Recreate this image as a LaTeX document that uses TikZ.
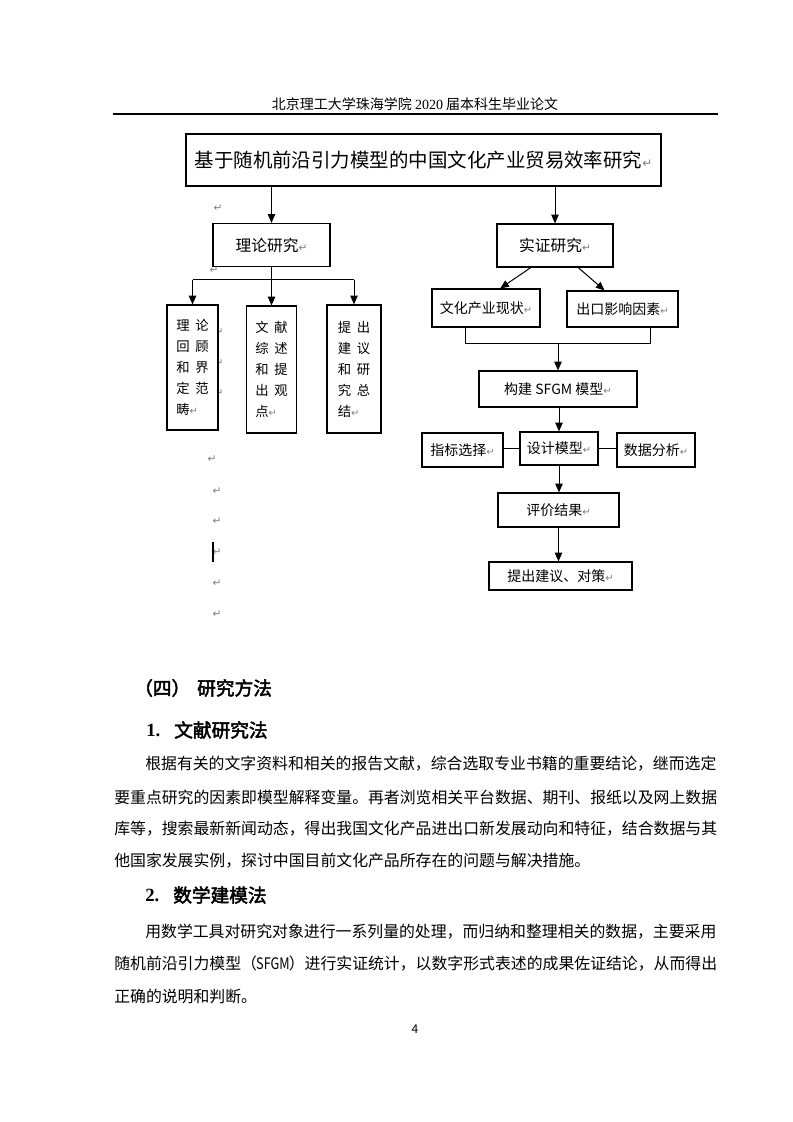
\documentclass[tikz,border=0pt]{standalone}
\usepackage{fontspec}
\usepackage{graphicx}
\setmainfont{Noto Sans CJK SC}
\newfontfamily\cjkbold[FakeBold=2.5]{Noto Sans CJK SC}
\newfontfamily\symf{DejaVu Sans}
\newfontfamily\serifl{Liberation Serif}
\usetikzlibrary{arrows.meta,calc}
\newcommand\fs[1]{\fontsize{#1}{#1}\selectfont}
\newcommand\ret[1][7.5]{{\symf\color{black!50}\fontsize{#1}{#1}\selectfont ↵}}
\newcommand\pr[2]{#1\hspace{4.3pt}#2}
\begin{document}
\begin{tikzpicture}[x=0.75pt,y=-0.75pt,
  box/.style={draw,line width=0.9pt,inner sep=0pt,fill=white},
  wh/.style 2 args={minimum width=#1*0.75pt,minimum height=#2*0.75pt},
  vt/.style={box,align=left,font=\fontsize{10}{15.75}\selectfont},
  arr/.style={line width=0.75pt,-{Triangle[length=6.5pt,width=5.5pt]}},
  ln/.style={line width=0.75pt},
  retm/.style={inner sep=0pt,text=black!50,font=\symf\fs{8}},
  txt/.style={inner sep=0pt,anchor=west},
  body/.style={txt,font=\fs{11.9}},
]
\useasboundingbox[fill=white] (0,0) rectangle (793,1122);

% header
\node[inner sep=0pt,font=\fs{10.5}] (hdr) at (415,104) {北京理工大学珠海学院 {\serifl 2020} 届本科生毕业论文};
\coordinate (hl) at (113,114);
\coordinate (hr) at (718,114);
\draw[line width=0.8pt] (hl) -- (hr);

% title
\node[box,wh={475}{52},font=\fs{14.6}] (title) at (423.5,160) {基于随机前沿引力模型的中国文化产业贸易效率研究\ret[9]};

% left branch
\node[box,wh={117}{43},font=\fs{11.8}] (theory) at (271.5,245) {理论研究\ret[8]};
\node[retm] (r1) at (218,208) {↵};
\node[retm] (r2) at (214,270) {↵};
\node[retm] (r3) at (219,332) {↵};
\node[retm] (r4) at (219,363) {↵};
\node[retm] (r5) at (219,393) {↵};

\node[vt,wh={51}{125}] (b1) at (192.5,367.5) {\pr{理}{论}\\\pr{回}{顾}\\\pr{和}{界}\\\pr{定}{范}\\畴\ret};
\node[vt,wh={50}{127}] (b2) at (271.5,369.5) {\pr{文}{献}\\\pr{综}{述}\\\pr{和}{提}\\\pr{出}{观}\\点\ret};
\node[vt,wh={54}{128}] (b3) at (354,369) {\pr{提}{出}\\\pr{建}{议}\\\pr{和}{研}\\\pr{究}{总}\\结\ret};

\draw[arr] (title.south -| theory) -- (theory.north);
\coordinate (tj) at ($(theory.south)+(0,12.5)$);
\draw[ln] (theory.south) -- (tj);
\draw[ln] (b1.north |- tj) -- (b3.north |- tj);
\draw[arr] (b1.north |- tj) -- (b1.north);
\draw[arr] (b2.north |- tj) -- (b2.north);
\draw[arr] (b3.north |- tj) -- (b3.north);

% stray paragraph marks and cursor
\node[retm] (r6) at (212,459) {↵};
\node[retm] (r7) at (217,491) {↵};
\node[retm] (r8) at (217,521) {↵};
\node[retm] (r9) at (217,552) {↵};
\node[retm] (r10) at (217,583) {↵};
\node[retm] (r11) at (217,614) {↵};
\coordinate (cu1) at (213,542);
\coordinate (cu2) at (213,562);
\draw[line width=1.1pt] (cu1) -- (cu2);

% right branch
\node[box,wh={116}{43},font=\fs{11.8}] (emp) at (555,245.5) {实证研究\ret[8]};
\draw[arr] (title.south -| emp) -- (emp.north);

\node[box,wh={108}{38},font=\fs{10.5}] (status) at (486,308) {文化产业现状\ret};
\node[box,wh={111}{36},font=\fs{10.5}] (factor) at (622.5,309) {出口影响因素\ret};
\draw[arr] ($(emp.south west)!0.293!(emp.south east)$) -- ($(status.north west)!0.63!(status.north east)$);
\draw[arr] ($(emp.south west)!0.698!(emp.south east)$) -- ($(factor.north west)!0.34!(factor.north east)$);

\node[box,wh={158}{36},font=\fs{10.5}] (model) at (558,389) {构建 SFGM 模型\ret};
\coordinate (mj) at (558,343);
\coordinate (s1) at ($(status.south west)!0.315!(status.south east)$);
\coordinate (f1) at ($(factor.south west)!0.748!(factor.south east)$);
\draw[ln] (s1) -- (s1 |- mj) -- (f1 |- mj) -- (f1);
\draw[arr] (mj) -- (model.north);

\node[box,wh={78}{33},font=\fs{10.5}] (design) at (559,448.5) {设计模型\ret};
\node[box,wh={81}{34},font=\fs{10.5}] (index) at (462.5,450) {指标选择\ret};
\node[box,wh={78}{34},font=\fs{10.5}] (data) at (656,450) {数据分析\ret};
\draw[arr] (model.south -| design) -- (design.north);
\draw[ln] (index.east |- design) -- (design.west);
\draw[ln] (design.east) -- (design.east -| data.west);

\node[box,wh={121}{34},font=\fs{10.5}] (eval) at (558.5,510) {评价结果\ret};
\node[box,wh={143}{28},font=\fs{10.5}] (sugg) at (560.5,576) {提出建议、对策\ret};
\draw[arr] (design.south) -- (design.south |- eval.north);
\draw[arr] (eval.south) -- (eval.south |- sugg.north);

% text below
\node[txt,font=\cjkbold\fs{14}] (h4a) at (134,688) {（四）};
\node[txt,font=\cjkbold\fs{14}] (h4b) at (197,688) {研究方法};
\node[txt,font=\fs{14}] (h1n) at (146,730) {\serifl\bfseries 1.};
\node[txt,font=\cjkbold\fs{14}] (h1t) at (174,730) {文献研究法};
\node[body] (p1a) at (145,764) {根据有关的文字资料和相关的报告文献，综合选取专业书籍的重要结论，继而选定};
\node[body] (p1b) at (114,797) {要重点研究的因素即模型解释变量。再者浏览相关平台数据、期刊、报纸以及网上数据};
\node[body] (p1c) at (114,829) {库等，搜索最新新闻动态，得出我国文化产品进出口新发展动向和特征，结合数据与其};
\node[body] (p1d) at (114,861) {他国家发展实例，探讨中国目前文化产品所存在的问题与解决措施。};
\node[txt,font=\fs{14}] (h2n) at (145,895) {\serifl\bfseries 2.};
\node[txt,font=\cjkbold\fs{14}] (h2t) at (173,895) {数学建模法};
\node[body] (p2a) at (145,932) {用数学工具对研究对象进行一系列量的处理，而归纳和整理相关的数据，主要采用};
\node[body] (p2b) at (114,964) {随机前沿引力模型（\makebox[2em]{\scalebox{0.8}[1]{SFGM}}）进行实证统计，以数字形式表述的成果佐证结论，从而得出};
\node[body] (p2c) at (114,996) {正确的说明和判断。};
\node[inner sep=0pt,font=\fs{9}] (pg) at (415,1029) {4};
\end{tikzpicture}
\end{document}
